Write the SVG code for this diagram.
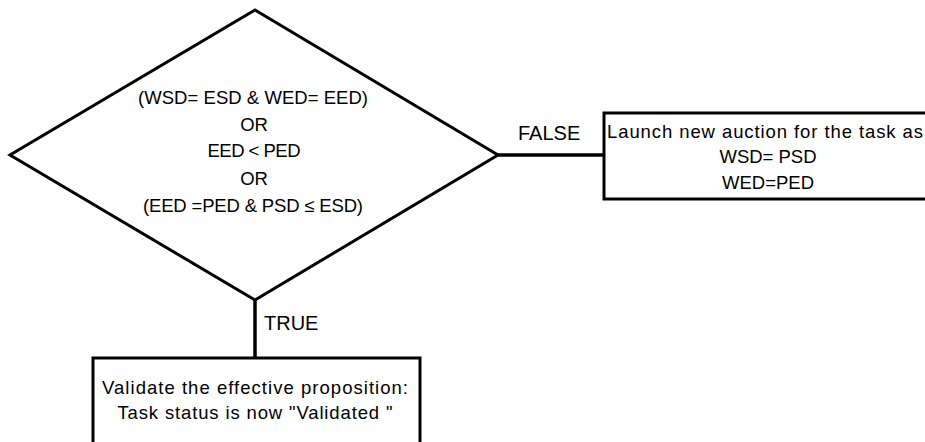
<svg xmlns="http://www.w3.org/2000/svg" width="925" height="442" viewBox="0 0 925 442">
  <style>
    .shape { fill: #ffffff; stroke: #000000; stroke-width: 3; stroke-linejoin: miter; }
    .link { stroke: #000000; stroke-width: 3.5; fill: none; }
    .txt { font-family: "Liberation Sans", Arial, sans-serif; font-size: 18.5px; fill: #000000; text-anchor: middle; }
    .lbl { font-family: "Liberation Sans", Arial, sans-serif; font-size: 20px; fill: #000000; }
  </style>
  <rect width="925" height="442" fill="#ffffff"/>

  <!-- connectors -->
  <g id="connectors">
    <line class="link" x1="498" y1="155" x2="604" y2="155"/>
    <line class="link" x1="255" y1="300" x2="255" y2="358"/>
    <text class="lbl" x="518" y="140">FALSE</text>
    <text class="lbl" x="264" y="330">TRUE</text>
  </g>

  <!-- decision -->
  <g id="decision">
    <polygon class="shape" points="255,10 498,155 255,300 10,155"/>
    <text class="txt" x="253" y="104" textLength="230" lengthAdjust="spacing">(WSD= ESD &amp; WED= EED)</text>
    <text class="txt" x="254" y="131">OR</text>
    <text class="txt" x="254" y="157" textLength="93" lengthAdjust="spacing">EED &lt; PED</text>
    <text class="txt" x="254" y="185">OR</text>
    <text class="txt" x="253" y="212" textLength="220" lengthAdjust="spacing">(EED =PED &amp; PSD ≤ ESD)</text>
  </g>

  <!-- false branch action -->
  <g id="relaunch">
    <rect class="shape" x="604" y="113" width="330" height="86"/>
    <text class="txt" x="607" y="138" style="text-anchor:start" textLength="322" lengthAdjust="spacing">Launch new auction for the task as:</text>
    <text class="txt" x="768" y="163">WSD= PSD</text>
    <text class="txt" x="768" y="189">WED=PED</text>
  </g>

  <!-- true branch action -->
  <g id="validate">
    <rect class="shape" x="93" y="358" width="327" height="100"/>
    <text class="txt" x="255" y="394" textLength="306" lengthAdjust="spacing">Validate the effective proposition:</text>
    <text class="txt" x="255" y="419" textLength="275" lengthAdjust="spacing">Task status is now "Validated "</text>
  </g>
</svg>
